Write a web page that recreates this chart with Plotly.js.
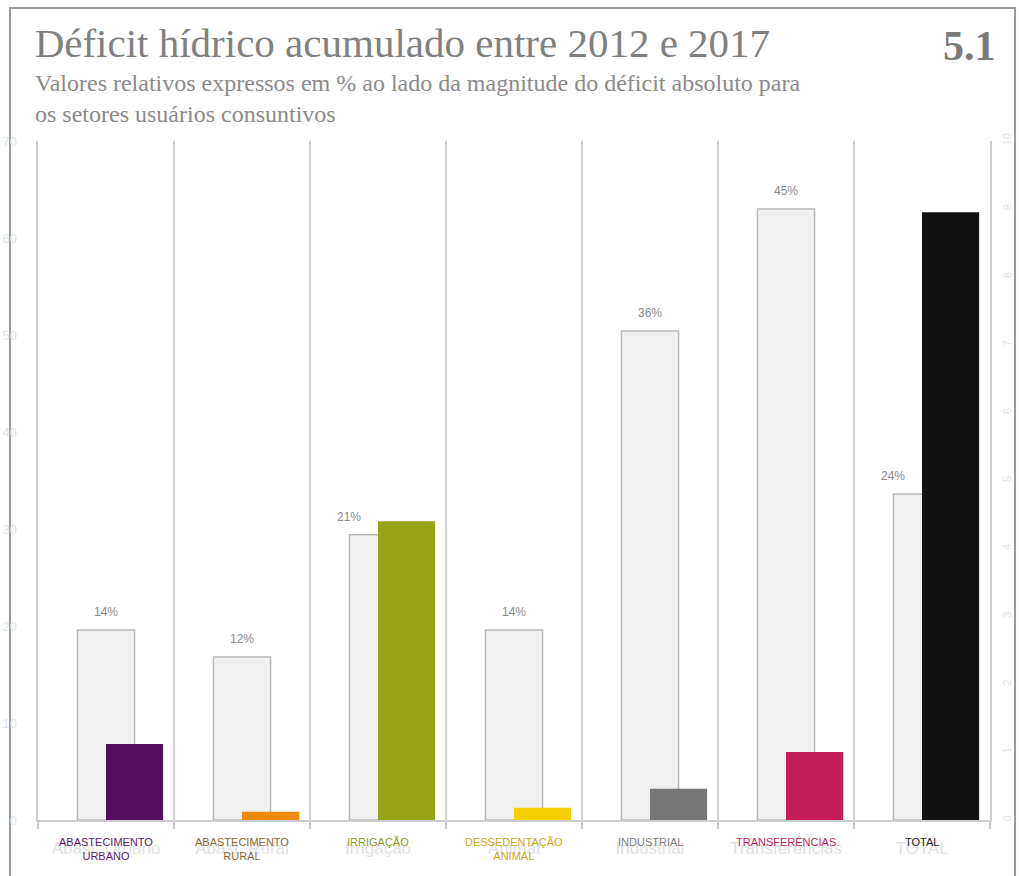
<!DOCTYPE html>
<html>
<head>
<meta charset="utf-8">
<script src="https://cdn.plot.ly/plotly-3.0.1.min.js"></script>
<style>
  html, body { margin: 0; padding: 0; background: #ffffff; }
  #chart { width: 1019px; height: 876px; }
</style>
</head>
<body>
<div id="chart"></div>
<script>
// ---- data ----
const categories = ["Abast. Urbano", "Abast. Rural", "Irrigação", "Animal", "Industrial", "Transferências", "TOTAL"];
const sectorLabels = ["ABASTECIMENTO<br>URBANO", "ABASTECIMENTO<br>RURAL", "IRRIGAÇÃO", "DESSEDENTAÇÃO<br>ANIMAL", "INDUSTRIAL", "TRANSFERÊNCIAS", "TOTAL"];
const relativePct = [14, 12, 21, 14, 36, 45, 24];          // % (light bars)
const absoluteDeficit = [1.12, 0.12, 4.40, 0.18, 0.46, 1.00, 8.95]; // magnitude (coloured bars)
const sectorColors = ["#520f5e", "#ee8a0a", "#97a317", "#f5cf00", "#767676", "#c41e5a", "#121212"];
const labelColors = ["#5b1a6b", "#8c6a34", "#8f9a1e", "#c9a722", "#7a7a7a", "#c41e5a", "#222222"];
const pctRange = [0, 50];
const absRange = [0, 10];
const ghostLeftRange = [0, 70];

const barW = 0.42;

const pctTrace = {
  type: "bar", x: categories, y: relativePct, yaxis: "y",
  width: barW, offset: -barW / 2,
  marker: { color: "#f0f0f0", line: { color: "#b9b9b9", width: 1.5 } },
  hoverinfo: "x+y"
};
const absTrace = {
  type: "bar", x: categories, y: absoluteDeficit, yaxis: "y2",
  width: barW, offset: 0,
  marker: { color: sectorColors, line: { width: 0 } },
  hoverinfo: "x+y"
};
const ghostTrace = {
  type: "scatter", x: [categories[0]], y: [0], yaxis: "y3",
  mode: "markers", marker: { opacity: 0 }, hoverinfo: "skip", showlegend: false
};

const annotations = [];
// percent labels above light bars (shifted left when coloured bar hides the centre)
relativePct.forEach((v, i) => {
  const covered = absoluteDeficit[i] / absRange[1] > v / pctRange[1];
  annotations.push({
    x: covered ? i - barW / 2 : i, y: v, xref: "x", yref: "y",
    text: v + "%", showarrow: false, yanchor: "bottom", yshift: 9,
    font: { family: "Liberation Sans, Arial, sans-serif", size: 12, color: "#8a8a8a" }
  });
});
// coloured sector labels
sectorLabels.forEach((t, i) => {
  annotations.push({
    x: i, y: 0, xref: "x", yref: "paper", yanchor: "top", yshift: -14,
    text: t, showarrow: false,
    font: { family: "Liberation Sans, Arial, sans-serif", size: 11, color: labelColors[i] }
  });
});
// subtitle
annotations.push({
  x: -0.0055, xref: "paper", xanchor: "left", y: 1.107, yref: "paper", yanchor: "top",
  align: "left", showarrow: false,
  text: "Valores relativos expressos em % ao lado da magnitude do déficit absoluto para<br>os setores usuários consuntivos",
  font: { family: "Liberation Serif, Times New Roman, serif", size: 24, color: "#8a8a8a" }
});
// figure number
annotations.push({
  x: 1.0085, xref: "paper", xanchor: "right", y: 1.177, yref: "paper", yanchor: "top",
  showarrow: false, text: "<b>5.1</b>",
  font: { family: "Liberation Serif, Times New Roman, serif", size: 42, color: "#7a7a7a" }
});

const layout = {
  width: 1019, height: 876,
  margin: { l: 38, r: 29, t: 141, b: 56 },
  paper_bgcolor: "#ffffff", plot_bgcolor: "#ffffff",
  showlegend: false, barmode: "overlay",
  title: {
    text: "Déficit hídrico acumulado entre 2012 e 2017",
    x: 0.034, xanchor: "left", xref: "container",
    y: 0.951, yanchor: "middle", yref: "container",
    font: { family: "Liberation Serif, Times New Roman, serif", size: 41, color: "#808080" }
  },
  xaxis: {
    type: "category", categoryorder: "array", categoryarray: categories,
    range: [-0.5, categories.length - 0.5],
    tickson: "boundaries", ticks: "outside", ticklen: 7, tickwidth: 2, tickcolor: "#cccccc",
    showgrid: true, gridcolor: "#d0d0d0", gridwidth: 2,
    showline: true, linecolor: "#cccccc", linewidth: 2,
    tickfont: { family: "Liberation Sans, Arial, sans-serif", size: 17, color: "#e2e2e2" },
    ticklabelstandoff: 12,
    zeroline: false, fixedrange: true
  },
  yaxis: {
    range: pctRange, showgrid: false, zeroline: false,
    showline: true, linecolor: "#cccccc", linewidth: 2,
    showticklabels: false, ticks: "", fixedrange: true
  },
  yaxis2: {
    range: absRange, overlaying: "y", side: "right", dtick: 1,
    showgrid: false, zeroline: false,
    showline: true, linecolor: "#cccccc", linewidth: 2, ticks: "",
    tickangle: -90, ticklabelstandoff: 6,
    tickfont: { family: "Liberation Sans, Arial, sans-serif", size: 11, color: "#e4e4e4" },
    fixedrange: true
  },
  yaxis3: {
    range: ghostLeftRange, overlaying: "y", side: "left", dtick: 10,
    showgrid: false, zeroline: false, showline: false, ticks: "",
    ticklabelstandoff: 20,
    tickfont: { family: "Liberation Sans, Arial, sans-serif", size: 13, color: "#e4e4e4" },
    fixedrange: true
  },
  shapes: [{
    type: "rect", xref: "paper", yref: "paper",
    x0: -0.0294, x1: 1.0263, y0: -0.12, y1: 1.196,
    line: { color: "#999999", width: 2 }, fillcolor: "rgba(0,0,0,0)", layer: "below"
  }],
  annotations: annotations
};

Plotly.newPlot("chart", [pctTrace, ghostTrace, absTrace], layout, { displayModeBar: false, staticPlot: true });
</script>
</body>
</html>
